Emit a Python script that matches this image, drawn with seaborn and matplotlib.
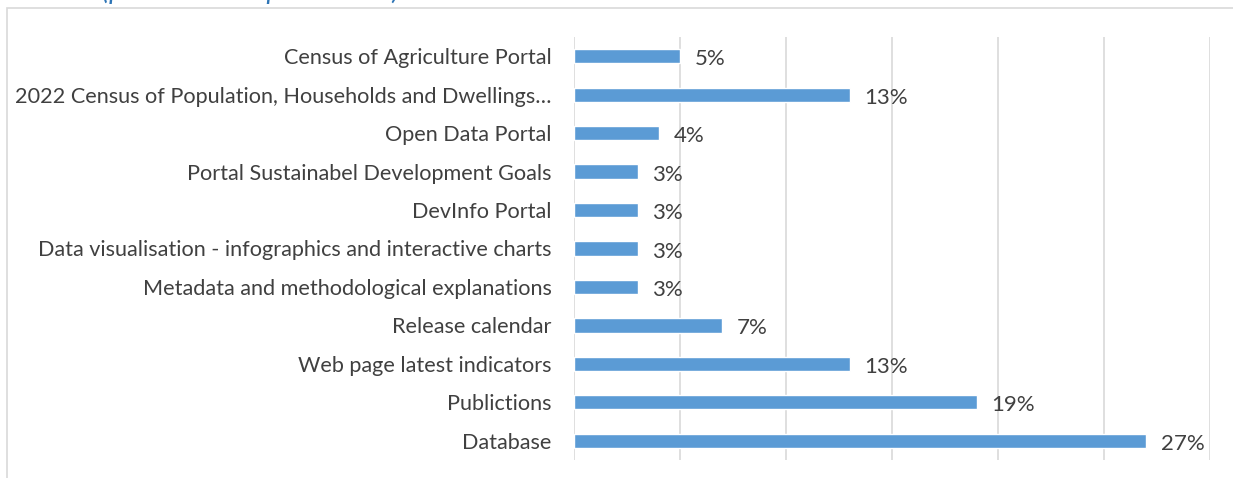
import matplotlib
matplotlib.use("Agg")
import matplotlib.pyplot as plt
from matplotlib.patches import Rectangle
import seaborn as sns
import pandas as pd

categories = [
    "Census of Agriculture Portal",
    "2022 Census of Population, Households and Dwellings…",
    "Open Data Portal",
    "Portal Sustainabel Development Goals",
    "DevInfo Portal",
    "Data visualisation - infographics and interactive charts",
    "Metadata and methodological explanations",
    "Release calendar",
    "Web page latest indicators",
    "Publictions",
    "Database",
]
shares = [5, 13, 4, 3, 3, 3, 3, 7, 13, 19, 27]
x_ticks = [0, 5, 10, 15, 20, 25, 30]
subtitle = "(possible multiple choices)"

df = pd.DataFrame({"category": categories, "share": shares})

sns.set_theme(style="white")
plt.rcParams["font.family"] = ["Lato", "DejaVu Sans"]

W, H = 1233, 478
fig = plt.figure(figsize=(W / 100, H / 100), dpi=100)
ax = fig.add_axes([574 / W, 1 - 460 / H, (1210 - 574) / W, (460 - 37) / H])

bar_color = "#5B9BD5"
text_color = "#404040"
grid_color = "#D9D9D9"

sns.barplot(data=df, x="share", y="category", order=categories, color=bar_color,
            width=0.37, saturation=1, ax=ax, zorder=3)

ax.set_xlim(0, 30)
ax.set_xticks(x_ticks)
ax.set_xticklabels([])
ax.tick_params(axis="x", length=0)
ax.tick_params(axis="y", length=0, pad=16, labelsize=15.6, labelcolor=text_color)
ax.set_xlabel("")
ax.set_ylabel("")
ax.grid(axis="x", color=grid_color, linewidth=1.2, zorder=0)
ax.grid(axis="y", visible=False)
for side in ["top", "right", "bottom", "left"]:
    ax.spines[side].set_visible(False)

for i, v in enumerate(shares):
    ax.text(v + 0.7, i + 0.08, f"{v}%", va="center", ha="left",
            fontsize=16, color=text_color)

# chart area frame
fig.patches.append(Rectangle((7 / W, -0.05), 1.0, 1 - 8 / H + 0.05,
                             transform=fig.transFigure, fill=False,
                             edgecolor=grid_color, linewidth=1.2))

fig.text(102 / W, 1 + 1.5 / H, subtitle, color="#2E75B6", fontsize=20,
         style="italic", va="baseline", ha="left")

fig.savefig("out.png", dpi=100, facecolor="white")
